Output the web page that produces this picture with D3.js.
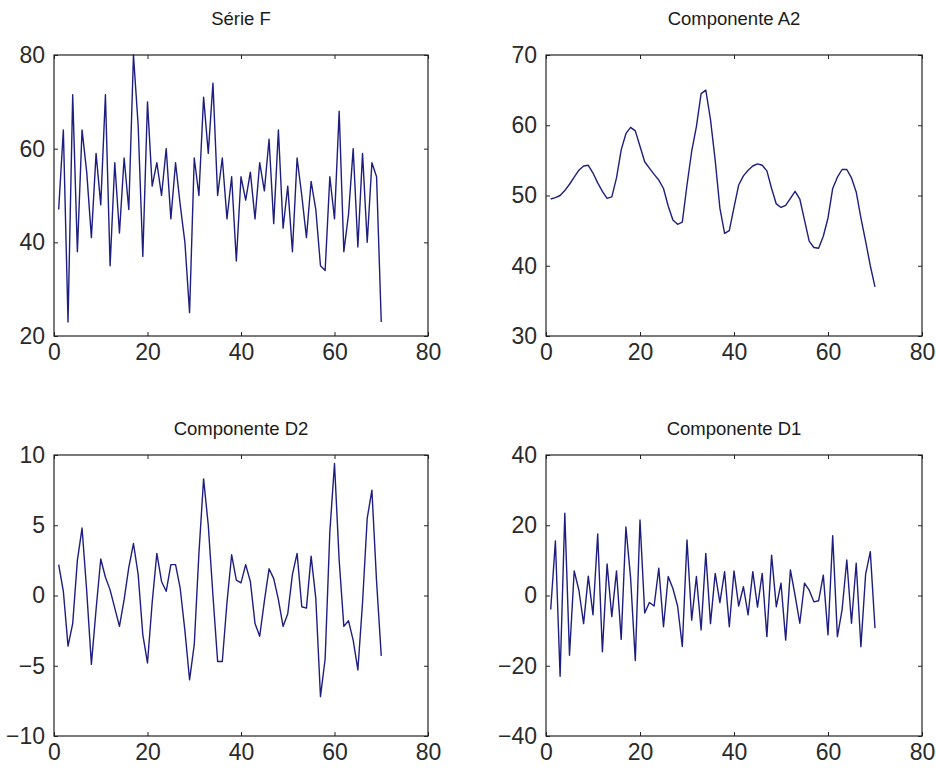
<!DOCTYPE html>
<html lang="pt">
<head>
<meta charset="UTF-8">
<title>Decomposição wavelet</title>
<script src="https://d3js.org/d3.v7.min.js"></script>
<style>
  body { margin: 0; background: #fff; }
  svg { display: block; }
  .tick text { font-family: "Liberation Sans", Arial, sans-serif; font-size: 23px; fill: #2a2a2a; }
  .title { font-family: "Liberation Sans", Arial, sans-serif; font-size: 18.5px; fill: #1a1a1a; }
</style>
</head>
<body>
<div id="chart"></div>
<script>
// valores (n = 1..70)
const serieF = [47, 64, 23, 71.5, 38, 64, 55, 41, 59, 48,
  71.5, 35, 57, 42, 58, 47, 80, 65, 37, 70,
  52, 57, 50, 60, 45, 57, 48, 40, 25, 58,
  50, 71, 59, 74, 50, 58, 45, 54, 36, 54,
  49, 55, 45, 57, 51, 62, 44, 64, 43, 52,
  38, 58, 50, 41, 53, 47, 35, 34, 54, 45,
  68, 38, 46, 60, 39, 59, 40, 57, 54, 23];

const compA2 = [49.5, 49.7, 50.0, 50.7, 51.6, 52.6, 53.6, 54.2, 54.3, 53.2,
  51.8, 50.6, 49.6, 49.8, 52.5, 56.5, 58.8, 59.7, 59.2, 57.0,
  54.8, 53.9, 53.0, 52.2, 51.0, 48.5, 46.5, 45.9, 46.2, 51.5,
  56.3, 59.8, 64.5, 65.0, 60.8, 55.0, 48.2, 44.6, 45.0, 48.3,
  51.5, 52.8, 53.6, 54.2, 54.5, 54.3, 53.5, 51.0, 48.8, 48.3,
  48.6, 49.6, 50.6, 49.5, 46.5, 43.5, 42.6, 42.5, 44.2, 46.8,
  51.0, 52.6, 53.7, 53.7, 52.5, 50.5, 46.8, 43.5, 40.0, 37.0];

const compD2 = [2.2, 0.3, -3.6, -2.0, 2.5, 4.8, 0.3, -4.9, -1.0, 2.6,
  1.3, 0.4, -0.9, -2.2, -0.3, 2.0, 3.7, 1.5, -2.8, -4.8,
  -0.5, 3.0, 1.0, 0.3, 2.2, 2.2, 0.5, -2.5, -6.0, -3.5,
  3.0, 8.3, 5.0, 0.0, -4.7, -4.7, -0.5, 2.9, 1.1, 0.9,
  2.2, 1.0, -2.0, -2.9, -0.4, 1.9, 1.2, -0.3, -2.2, -1.3,
  1.5, 3.0, -0.8, -0.9, 2.8, -0.2, -7.2, -4.5, 4.5, 9.4,
  2.5, -2.2, -1.8, -3.2, -5.3, -0.5, 5.5, 7.5, 1.0, -4.3];

const compD1 = [-4, 15.5, -23, 23.4, -17, 7, 1.5, -8, 5.5, -5.5,
  17.5, -16, 9, -6, 7, -12.5, 19.5, 5, -18.5, 21.5,
  -5, -2, -3, 7.8, -8.9, 5.4, 2, -3, -14.5, 15.8,
  -7, 5.4, -9.8, 12, -8, 6.3, -2, 6.8, -8.9, 7,
  -3, 2.5, -5.5, 6.8, -3.3, 6.3, -11.7, 11.5, -3.2, 3.5,
  -12.7, 7.3, 0, -7.9, 3.5, 1.5, -1.8, -1.5, 5.8, -11.2,
  17, -11.7, -4, 10.1, -7.9, 9.2, -14.6, 6, 12.5, -9.3];

const titles = ["Série F", "Componente A2", "Componente D2", "Componente D1"];
const xDomain = [0, 80];
const xTicks = [0, 20, 40, 60, 80];
const yDomains = [[20, 80], [30, 70], [-10, 10], [-40, 40]];
const yTicks = [[20, 40, 60, 80], [30, 40, 50, 60, 70], [-10, -5, 0, 5, 10], [-40, -20, 0, 20, 40]];
const series = [serieF, compA2, compD2, compD1];

const width = 936, height = 769;
const boxes = [
  {x: 54, y: 55, w: 374, h: 281},
  {x: 546, y: 55, w: 376, h: 281},
  {x: 54, y: 455, w: 374, h: 281},
  {x: 546, y: 455, w: 376, h: 281}
];

const svg = d3.select("#chart").append("svg")
  .attr("width", width)
  .attr("height", height)
  .attr("viewBox", [0, 0, width, height]);

series.forEach((values, i) => {
  const b = boxes[i];
  const x = d3.scaleLinear().domain(xDomain).range([0, b.w]);
  const y = d3.scaleLinear().domain(yDomains[i]).range([b.h, 0]);
  const g = svg.append("g").attr("transform", `translate(${b.x},${b.y})`);

  // linha
  const line = d3.line()
    .x((d, j) => x(j + 1))
    .y(d => y(d));

  g.append("path")
    .datum(values)
    .attr("fill", "none")
    .attr("stroke", "#1e1e80")
    .attr("stroke-width", 1.4)
    .attr("stroke-linejoin", "round")
    .attr("d", line);

  // eixos com marcas para dentro, estilo matlab
  g.append("g")
    .attr("transform", `translate(0,${b.h})`)
    .call(d3.axisBottom(x).tickValues(xTicks).tickSizeInner(-4).tickSizeOuter(0).tickPadding(8));
  g.append("g")
    .call(d3.axisLeft(y).tickValues(yTicks[i]).tickSizeInner(-4).tickSizeOuter(0).tickPadding(9));
  g.append("g")
    .call(d3.axisTop(x).tickValues(xTicks).tickSize(-4).tickFormat(""));
  g.append("g")
    .attr("transform", `translate(${b.w},0)`)
    .call(d3.axisRight(y).tickValues(yTicks[i]).tickSize(-4).tickFormat(""));

  g.selectAll(".domain").remove();
  g.selectAll(".tick line").attr("stroke", "#222");

  g.append("rect")
    .attr("width", b.w)
    .attr("height", b.h)
    .attr("fill", "none")
    .attr("stroke", "#222")
    .attr("stroke-width", 1.2);

  g.append("text")
    .attr("class", "title")
    .attr("x", b.w / 2)
    .attr("y", i < 2 ? -30 : -20)
    .attr("text-anchor", "middle")
    .text(titles[i]);
});
</script>
</body>
</html>
